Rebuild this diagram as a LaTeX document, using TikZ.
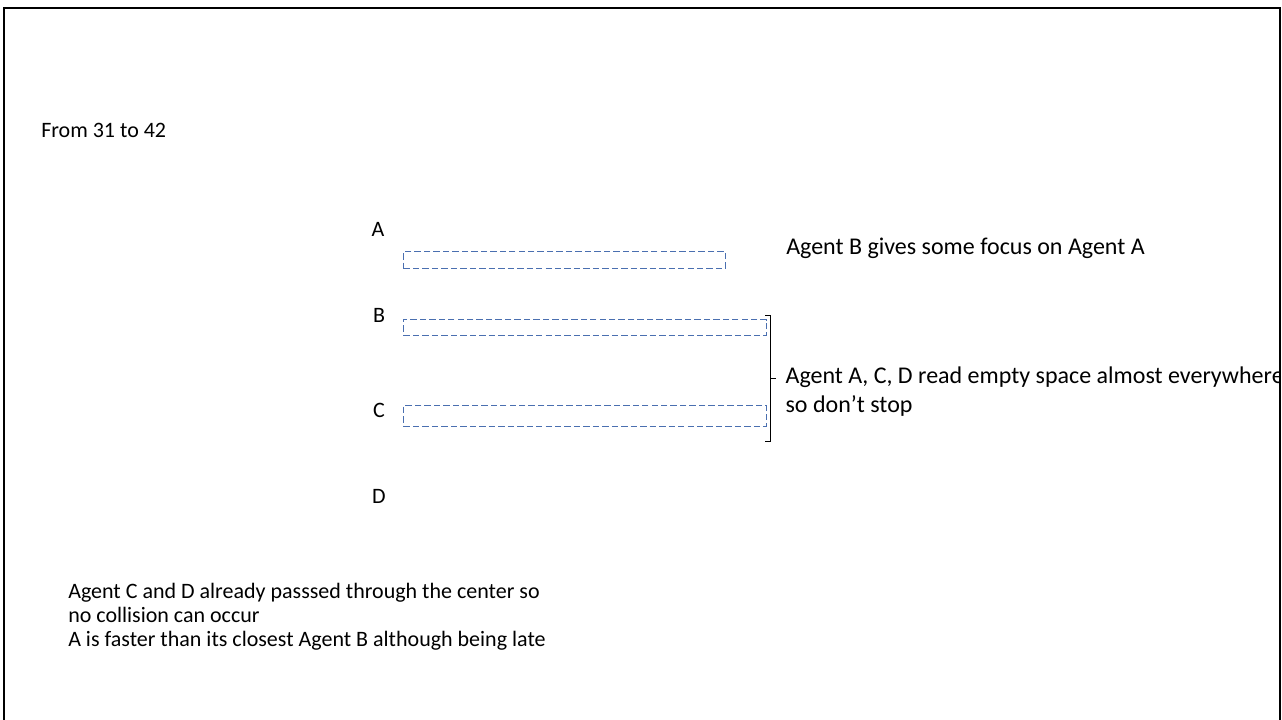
\documentclass[tikz,border=0pt]{standalone}
\usepackage{fontspec}
\setmainfont{Carlito}
\usepackage{xcolor}
\usetikzlibrary{positioning}
\definecolor{laneblue}{HTML}{4A6FB0}

\begin{document}
\begin{tikzpicture}[x=0.75pt,y=-0.75pt,
  every node/.style={font=\fontsize{16.5}{17.8}\selectfont,inner sep=0pt},
  lane/.style={draw=laneblue,dashed,dash pattern=on 4.8pt off 2.3pt,line width=0.8pt,anchor=north west,minimum width=#1},
  tag/.style={anchor=center},
  note/.style={align=left,anchor=west,font=\fontsize{18}{21.8}\selectfont}]
\useasboundingbox (0,0) rectangle (1282,720);
\draw[line width=1.5pt](4,721)--(4,8)--(1280,8)--(1280,721);
\clip (5,9) rectangle (1279,720);
\node[anchor=west] (title) at (41,130) {From 31 to 42};
\node[tag] (la) at (378,229) {A};
\node[tag] (lb) at (379,315) {B};
\node[tag] (lc) at (379,410) {C};
\node[tag] (ld) at (379,496) {D};
\node[lane=241.5pt,minimum height=12.75pt] (boxa) at (403,251) {};
\node[lane=272.25pt,minimum height=12pt] (boxb) at (403,319) {};
\node[lane=272.25pt,minimum height=15.5pt] (boxc) at (403,405) {};
\coordinate (bt) at (770,316);
\coordinate (bb) at (770,441);
\coordinate (bm) at (770,378);
\draw[line width=0.75pt](765,316)--(bt)--(bb)--(765,441);
\draw[line width=0.75pt](bm)--++(6,0) coordinate (tip);
\node[note] (focus) at (786,248) {Agent B gives some focus on Agent A};
\node[note,right=7pt of tip,yshift=-10pt] (empty) {Agent A, C, D read empty space almost everywhere\\so don’t stop};
\node[note,font=\fontsize{16.5}{17.8}\selectfont,anchor=base west] (late) at (68,646) {Agent C and D already passsed through the center so\\no collision can occur\\A is faster than its closest Agent B although being late};
\end{tikzpicture}
\end{document}
